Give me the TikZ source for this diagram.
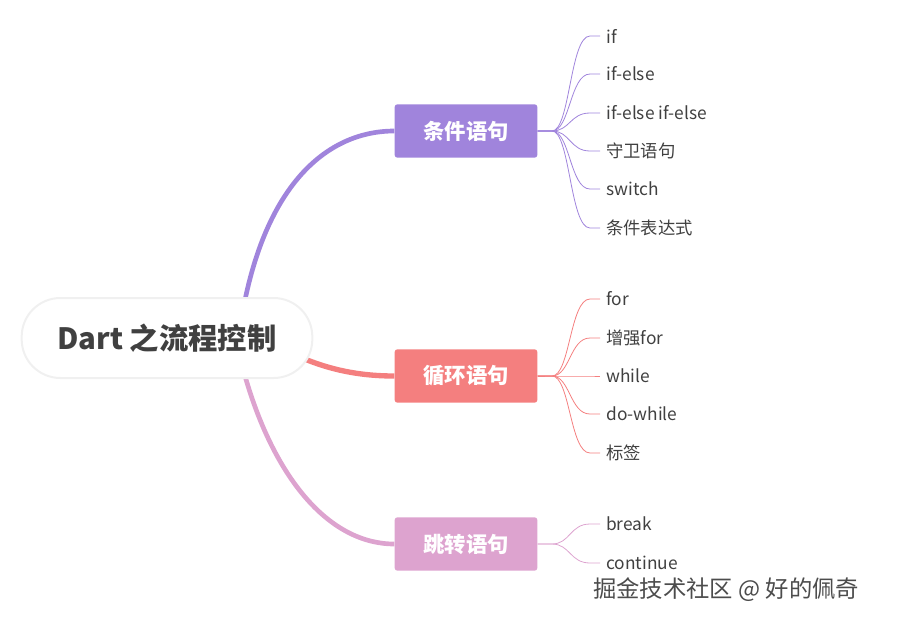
\documentclass[tikz,border=0pt]{standalone}
\usepackage{fontspec}
\setmainfont{Noto Sans CJK SC}
\begin{document}
\begin{tikzpicture}[x=0.75pt,y=-0.75pt,
  box/.style={rounded corners=2pt,minimum width=107pt,minimum height=40pt,text=white,font=\bfseries\fontsize{16}{18}\selectfont},
  leaf/.style={anchor=west,inner sep=0pt,text=black!75,font=\fontsize{13}{15}\selectfont},
  thin/.style={line width=0.6pt}]
\useasboundingbox (0,0) rectangle (897,622);
\definecolor{pu}{HTML}{A084DC}\definecolor{rd}{HTML}{F47F7F}\definecolor{pk}{HTML}{DDA3CF}
\node[box,fill=pu] (b1) at (466,131) {条件语句};
\node[box,fill=rd] (b2) at (466,376) {循环语句};
\node[box,fill=pk] (b3) at (466,544) {跳转语句};
\draw[pu,line width=3.5pt] (245,300) .. controls (270,180) and (330,131) .. (b1.west);
\draw[rd,line width=4pt] (300,357) .. controls (330,370) and (360,376) .. (b2.west);
\draw[pk,line width=3.5pt] (245,376) .. controls (275,480) and (330,544) .. (b3.west);
\node[draw=black!6,line width=1.5pt,fill=white,rounded corners=29pt,minimum width=218pt,minimum height=60pt,text=black!75,font=\bfseries\fontsize{22}{26}\selectfont] (root) at (167,338) {Dart 之流程控制};
\foreach \t/\y [count=\i] in {if/36,if-else/74,if-else if-else/113,守卫语句/151,switch/189,条件表达式/228}{
  \node[leaf] (p\i) at (606,\y) {\t};
  \draw[pu,thin] (b1.east) -- (552,131) .. controls (570,131) and (570,\y) .. (590,\y) -- (600,\y);}
\foreach \t/\y [count=\i] in {for/299,增强for/338,while/376,do-while/414,标签/453}{
  \node[leaf] (r\i) at (606,\y) {\t};
  \draw[rd,thin] (b2.east) -- (552,376) .. controls (570,376) and (570,\y) .. (590,\y) -- (600,\y);}
\foreach \t/\y [count=\i] in {break/524,continue/563}{
  \node[leaf] (k\i) at (606,\y) {\t};
  \draw[pk,thin] (b3.east) -- (552,544) .. controls (570,544) and (570,\y) .. (590,\y) -- (600,\y);}
\node[anchor=west,inner sep=0pt,text=black!70,font=\fontsize{17.5}{20}\selectfont] (wm) at (593,590) {掘金技术社区 @ 好的佩奇};
\end{tikzpicture}
\end{document}
